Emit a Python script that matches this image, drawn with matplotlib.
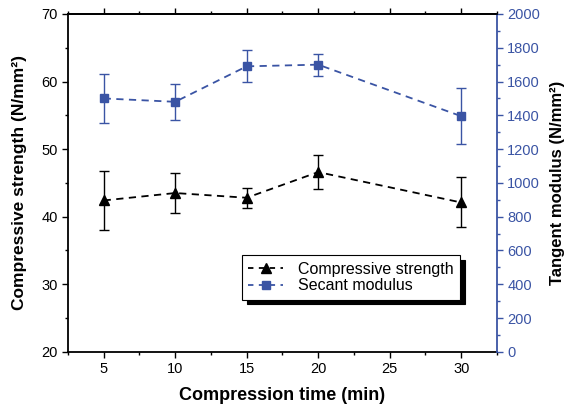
import matplotlib
matplotlib.use("Agg")
import matplotlib.pyplot as plt
from matplotlib.ticker import MultipleLocator
from matplotlib.lines import Line2D

plt.rcParams['font.family'] = ['Liberation Sans', 'DejaVu Sans']

time = [5, 10, 15, 20, 30]
strength = [42.4, 43.5, 42.8, 46.6, 42.1]
strength_err = [4.4, 2.9, 1.5, 2.5, 3.7]
modulus = [1500, 1480, 1690, 1700, 1395]
modulus_err = [145, 105, 95, 65, 165]

blue = '#3a54a4'

fig = plt.figure(figsize=(5.66, 4.11), dpi=100)
ax = fig.add_axes([0.120, 0.144, 0.758, 0.822])
ax2 = ax.twinx()

ax.errorbar(time, strength, yerr=strength_err, color='black', ls=(0, (4, 3)),
            lw=1.3, marker='^', ms=7, capsize=3.5, elinewidth=1, capthick=1)
ax2.errorbar(time, modulus, yerr=modulus_err, color=blue, ls=(0, (4, 3)),
             lw=1.3, marker='s', ms=6, capsize=3.5, elinewidth=1, capthick=1)

ax.set_xlim(2.5, 32.5)
ax.set_ylim(20, 70)
ax2.set_ylim(0, 2000)

ax.xaxis.set_major_locator(MultipleLocator(5))
ax.xaxis.set_minor_locator(MultipleLocator(2.5))
ax.yaxis.set_major_locator(MultipleLocator(10))
ax.yaxis.set_minor_locator(MultipleLocator(5))
ax2.yaxis.set_major_locator(MultipleLocator(200))
ax2.yaxis.set_minor_locator(MultipleLocator(100))

ax.set_xticks([5, 10, 15, 20, 25, 30])
ax.tick_params(axis='both', which='both', direction='out', labelsize=10.5, width=1, color='black')
ax.tick_params(which='major', length=4)
ax.tick_params(which='minor', length=2.5)
ax.tick_params(axis='x', which='both', top=True)
ax2.tick_params(axis='y', which='both', colors=blue, labelsize=10.5, width=1)
ax2.tick_params(which='major', length=4)
ax2.tick_params(which='minor', length=2.5)

for s in ['left', 'top', 'bottom']:
    ax.spines[s].set_linewidth(1.3)
ax2.spines['right'].set_color(blue)
ax2.spines['right'].set_linewidth(1.3)
ax2.spines['left'].set_visible(False)
ax2.spines['top'].set_linewidth(1.3)
ax2.spines['bottom'].set_visible(False)
ax.spines['right'].set_visible(False)

ax.set_xlabel('Compression time (min)', fontsize=13, fontweight='bold', labelpad=8)
ax.set_ylabel('Compressive strength (N/mm²)', fontsize=12.5, fontweight='bold',
              labelpad=10)
ax2.set_ylabel('Tangent modulus (N/mm²)', fontsize=12, fontweight='bold',
               color='black', labelpad=7)

h1 = Line2D([], [], color='black', ls=(0, (3, 3)), lw=1.3, marker='^', ms=7)
h2 = Line2D([], [], color=blue, ls=(0, (3, 3)), lw=1.3, marker='s', ms=6)
leg = ax2.legend([h1, h2], ['Compressive strength', 'Secant modulus'], loc='upper left',
                 bbox_to_anchor=(0.405, 0.286), fontsize=11.5, frameon=True, fancybox=False,
                 shadow={'color': 'black', 'alpha': 1, 'ox': 4, 'oy': -3.5}, edgecolor='black',
                 handlelength=2.2, handletextpad=0.9, borderpad=0.4, labelspacing=0.1,
                 borderaxespad=0)
leg.get_frame().set_linewidth(0.8)

fig.savefig('out.png', dpi=100)
